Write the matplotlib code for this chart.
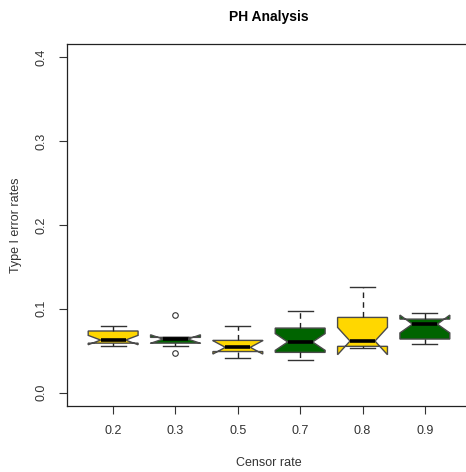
import matplotlib
matplotlib.use("Agg")
import matplotlib.pyplot as plt

plt.rcParams["font.family"] = ["Liberation Sans", "DejaVu Sans"]

# Censor rate groups and notched box statistics
labels = ["0.2", "0.3", "0.5", "0.7", "0.8", "0.9"]
med = [0.0627, 0.0639, 0.0540, 0.0604, 0.0615, 0.0817]
q1 = [0.0590, 0.0590, 0.0490, 0.0480, 0.0552, 0.0639]
q3 = [0.0735, 0.0659, 0.0623, 0.0770, 0.0897, 0.0877]
whislo = [0.0556, 0.0556, 0.0413, 0.0385, 0.0532, 0.0580]
whishi = [0.0790, 0.0659, 0.0800, 0.0968, 0.1258, 0.0949]
cilo = [0.0571, 0.0588, 0.0460, 0.0504, 0.0452, 0.0712]
cihi = [0.0683, 0.0690, 0.0620, 0.0704, 0.0778, 0.0925]
fliers = [[], [0.0929, 0.0472], [], [], [], []]
fills = ["#FFD700", "#006400", "#FFD700", "#006400", "#FFD700", "#006400"]

stats = []
for i, lab in enumerate(labels):
    stats.append(dict(label=lab, med=med[i], q1=q1[i], q3=q3[i],
                      whislo=whislo[i], whishi=whishi[i],
                      cilo=cilo[i], cihi=cihi[i], fliers=fliers[i]))

W, H = 466, 472
fig = plt.figure(figsize=(W / 100, H / 100), dpi=100)
ax = fig.add_axes([67 / W, (H - 406) / H, (471 - 67) / W, (406 - 44) / H])

edge = "#4a4a4a"
pos = list(range(1, len(labels) + 1))
bp = ax.bxp(stats, positions=pos, widths=0.8, capwidths=0.4,
            shownotches=True, patch_artist=True,
            boxprops=dict(edgecolor=edge, linewidth=1.0),
            whiskerprops=dict(color="#222222", linewidth=1.0, linestyle=(0, (4, 3))),
            capprops=dict(color="#333333", linewidth=1.0),
            medianprops=dict(color="black", linewidth=2.6, solid_capstyle="butt"),
            flierprops=dict(marker="o", markersize=4, markerfacecolor="none",
                            markeredgecolor="#333333", markeredgewidth=0.8))
for patch, c in zip(bp["boxes"], fills):
    patch.set_facecolor(c)

ax.set_xlim(0.26, 6.74)
ax.set_ylim(-0.016, 0.416)
ax.set_yticks([0.0, 0.1, 0.2, 0.3, 0.4])
ax.set_yticklabels(["0.0", "0.1", "0.2", "0.3", "0.4"], rotation=90, va="center")
ax.set_xticks(pos)
ax.set_xticklabels(labels)
ax.tick_params(axis="both", length=6, width=0.8, labelsize=9,
               labelcolor="#333333", color="#333333", pad=8)
for sp in ax.spines.values():
    sp.set_linewidth(0.9)
    sp.set_color("#222222")

ax.set_xlabel("Censor rate", fontsize=9, color="#333333", labelpad=14)
ax.set_ylabel("Type I error rates", fontsize=9, color="#333333", labelpad=10)
fig.text(269 / W, 1 - 17 / H, "PH Analysis", ha="center", va="center",
         fontsize=10, fontweight="bold")

fig.savefig("out.png", dpi=100)
